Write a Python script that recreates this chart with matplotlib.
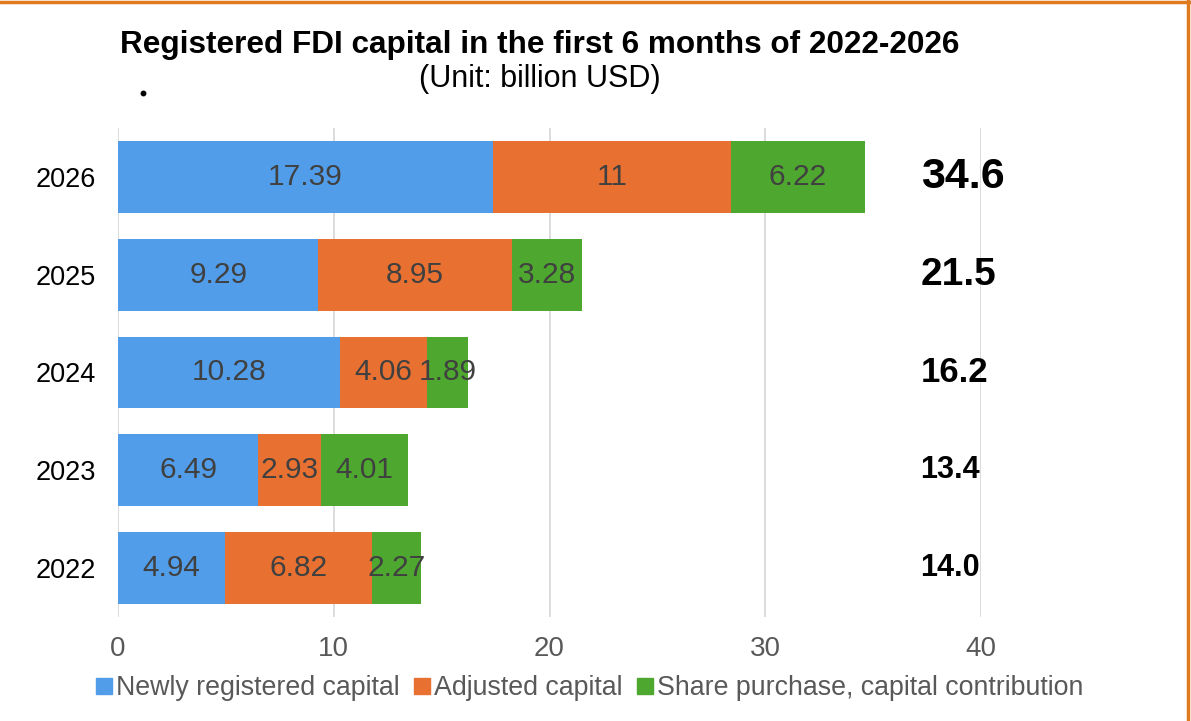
import numpy as np
import matplotlib.pyplot as plt
from matplotlib.lines import Line2D

plt.rcParams['font.family'] = ['Liberation Sans', 'DejaVu Sans']

years = ["2022", "2023", "2024", "2025", "2026"]
new_capital = [4.94, 6.49, 10.28, 9.29, 17.39]
adjusted = [6.82, 2.93, 4.06, 8.95, 11]
share_purchase = [2.27, 4.01, 1.89, 3.28, 6.22]
series_names = ["Newly registered capital", "Adjusted capital",
                "Share purchase, capital contribution"]
colors = ["#519DE9", "#E87132", "#4EA72E"]
total_sizes = [22, 22, 25, 28, 31]

fig = plt.figure(figsize=(11.91, 7.21), dpi=100)
ax = fig.add_axes([118/1191, 1-617/721, (981-118)/1191, (617-128)/721])

y = np.arange(len(years))
left = np.zeros(len(years))
for vals, name, col in zip([new_capital, adjusted, share_purchase], series_names, colors):
    bars = ax.barh(y, vals, left=left, height=0.735, color=col, label=name, zorder=2)
    labs = [("%g" % v) for v in vals]
    ax.bar_label(bars, labels=labs, label_type="center", fontsize=21.5, color="#404040")
    left = left + np.array(vals)

# totals on the right
for i, t in enumerate(left):
    ax.text(37.2, y[i], "%.1f" % t, fontsize=total_sizes[i], fontweight="bold",
            ha="left", va="center", color="black")

ax.set_xlim(0, 40)
ax.set_ylim(-0.5, 4.5)
ax.set_xticks([0, 10, 20, 30, 40])
ax.set_yticks(y)
ax.set_yticklabels(years, fontsize=19.5, color="black")
ax.tick_params(axis="x", labelsize=20, labelcolor="#595959", length=0, pad=14)
ax.tick_params(axis="y", length=0, pad=16)
ax.grid(axis="x", color="#D9D9D9", linewidth=1.3, zorder=0)
for s in ax.spines.values():
    s.set_visible(False)

handles = [Line2D([], [], marker="s", linestyle="none", markersize=11, color=c) for c in colors]
fig.legend(handles, series_names, loc="center", bbox_to_anchor=(589/1191, 1-688/721),
           ncol=3, frameon=False, fontsize=19.3, labelcolor="#595959",
           handletextpad=0.1, columnspacing=0.5, handlelength=0.7)

fig.text(540/1191, 1-45/721, "Registered FDI capital in the first 6 months of 2022-2026",
         ha="center", va="center", fontsize=22.7, fontweight="bold")
fig.text(540/1191, 1-79/721, "(Unit: billion USD)", ha="center", va="center", fontsize=22)
# small stray dot
fig.add_artist(Line2D([143/1191], [1-93/721], marker="o", markersize=3.2,
                      color="black", linestyle="none"))

# orange frame on top and right
fig.add_artist(Line2D([0, 1], [1-1.5/721, 1-1.5/721], color="#E07A1E", linewidth=2.5))
fig.add_artist(Line2D([1-3/1191, 1-3/1191], [0, 1], color="#E07A1E", linewidth=2.5))

fig.savefig("out.png", dpi=100)
